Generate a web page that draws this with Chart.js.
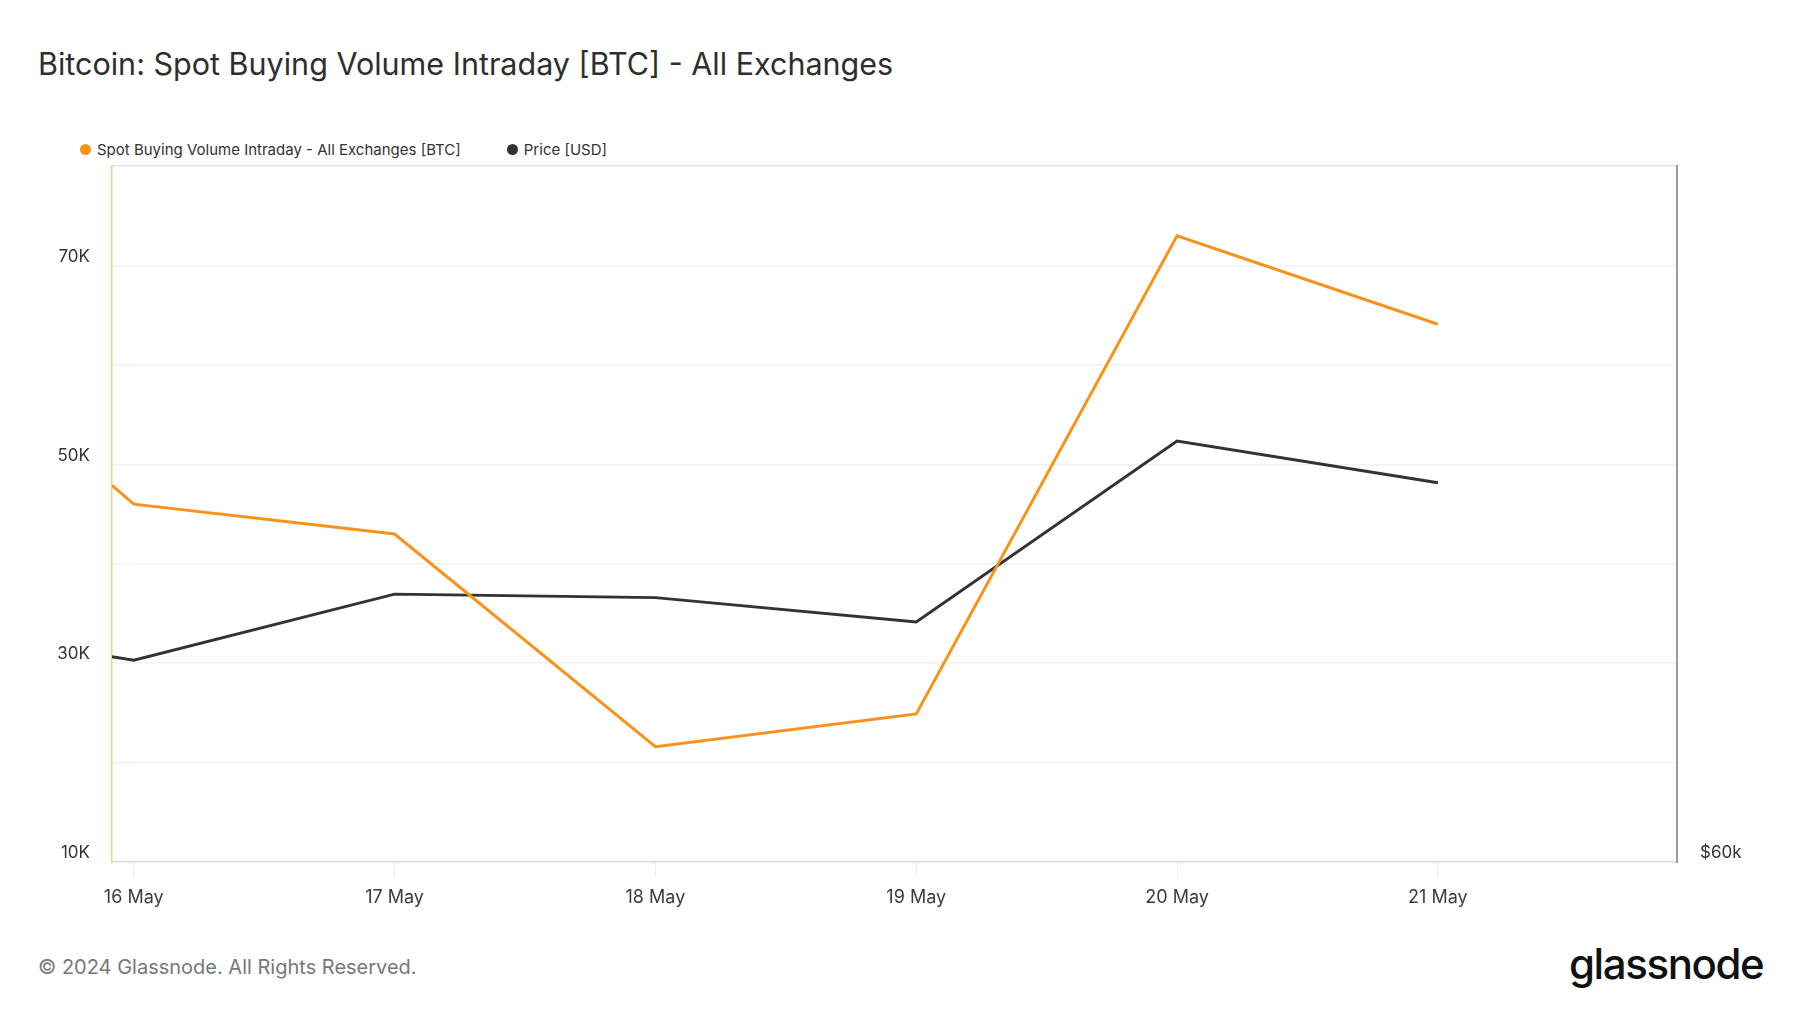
<!DOCTYPE html>
<html>
<head>
<meta charset="utf-8">
<script src="https://cdn.jsdelivr.net/npm/chart.js@4.4.1/dist/chart.umd.min.js"></script>
<style>
  html, body { margin: 0; padding: 0; background: #fff; }
  body { width: 1800px; height: 1013px; position: relative; overflow: hidden; font-family: 'Inter', sans-serif; }
  .title { position: absolute; left: 38px; top: 45px; font-size: 30.5px; color: #2e2e2e; white-space: nowrap; }
  .legend { position: absolute; left: 80px; top: 140px; font-size: 15px; color: #333; display: flex; }
  .legend .item { display: flex; align-items: center; margin-right: 46px; }
  .legend .dot { width: 11px; height: 11px; border-radius: 50%; margin-right: 6px; }
  #myGraph { position: absolute; left: 0; top: 133px; }
  .footer { position: absolute; left: 38px; top: 955px; font-size: 20px; color: #777; }
  .logo { position: absolute; left: 1569px; top: 938px; font-size: 42px; font-weight: 500; color: #111; letter-spacing: -1.4px; }
</style>
</head>
<body>
<div class="title">Bitcoin: Spot Buying Volume Intraday [BTC] - All Exchanges</div>
<div class="legend" id="legend"></div>
<canvas id="myGraph" width="1800" height="782"></canvas>
<div class="footer">© 2024 Glassnode. All Rights Reserved.</div>
<div class="logo">glassnode</div>
<script>
// hours since 16 May 00:00 (first point sits on the left edge of the plot)
const hours = [-2, 0, 24, 48, 72, 96, 120];
const xTickLabels = ["16 May", "17 May", "18 May", "19 May", "20 May", "21 May"];

const spotBuyingVolume = [47900, 46000, 43000, 21600, 24900, 73000, 64100];
const priceUsd = [65900, 65800, 67700, 67600, 66900, 72100, 70900];

const volumeTicksShown = [10000, 30000, 50000, 70000];
const priceTicksShown = [60000];

const ORANGE = "rgb(247, 147, 26)";
const DARK = "rgb(51, 51, 51)";

const datasets = [{
  label: "Spot Buying Volume Intraday - All Exchanges [BTC]",
  data: hours.map((h, i) => ({ x: h, y: spotBuyingVolume[i] })),
  borderColor: ORANGE,
  backgroundColor: ORANGE,
  borderWidth: 3,
  yAxisID: "y"
}, {
  label: "Price [USD]",
  data: hours.map((h, i) => ({ x: h, y: priceUsd[i] })),
  borderColor: DARK,
  backgroundColor: DARK,
  borderWidth: 2.9,
  yAxisID: "price"
}];

// legend
const legend = document.getElementById("legend");
datasets.forEach((ds) => {
  const item = document.createElement("div");
  item.className = "item";
  item.innerHTML = '<span class="dot" style="background:' + ds.borderColor + '"></span>' + ds.label;
  legend.appendChild(item);
});

const ctx = document.getElementById("myGraph").getContext("2d");
new Chart(ctx, {
  type: "line",
  data: { datasets: datasets },
  options: {
    responsive: false,
    animation: false,
    layout: { padding: { top: 10, left: 0, right: 0, bottom: 0 } },
    elements: { point: { radius: 0 }, line: { tension: 0 } },
    plugins: { legend: { display: false }, tooltip: { enabled: false } },
    scales: {
      x: {
        type: "linear",
        min: -2,
        max: 142,
        afterFit: (s) => { s.height = 53; },
        // one tick per day label
        afterBuildTicks: (s) => { s.ticks = xTickLabels.map((_, i) => ({ value: i * 24 })); },
        grid: { drawOnChartArea: false, drawTicks: true, tickLength: 15, color: "#ececec", lineWidth: 1 },
        border: { color: "#dcdcdc", width: 1.5 },
        ticks: {
          autoSkip: false,
          maxRotation: 0,
          padding: 10,
          color: "#3a3a48",
          font: { family: "Inter", size: 18 },
          callback: (v) => xTickLabels[Math.round(v / 24)] || ""
        }
      },
      y: {
        position: "left",
        min: 10000,
        max: 80000,
        afterFit: (s) => { s.width = 112; },
        grid: {
          drawTicks: false,
          color: (c) => c.tick && c.tick.value === 80000 ? "#e4e4e4" : "#f1f1f1",
          lineWidth: 1.5
        },
        border: { color: "rgba(247, 147, 26, 0.5)", width: 1.5 },
        ticks: {
          stepSize: 10000,
          padding: 22,
          labelOffset: -9,
          color: "#333",
          font: { family: "Inter", size: 17 },
          callback: (v) => volumeTicksShown.includes(v) ? (v / 1000) + "K" : ""
        }
      },
      price: {
        position: "right",
        min: 60000,
        max: 80000,
        afterFit: (s) => { s.width = 123; },
        grid: { drawOnChartArea: false, drawTicks: false },
        border: { color: "#9a9a9a", width: 2 },
        ticks: {
          stepSize: 20000,
          padding: 23,
          labelOffset: -9,
          color: "#333",
          font: { family: "Inter", size: 17 },
          callback: (v) => priceTicksShown.includes(v) ? "$" + (v / 1000) + "k" : ""
        }
      }
    }
  }
});
</script>
</body>
</html>
